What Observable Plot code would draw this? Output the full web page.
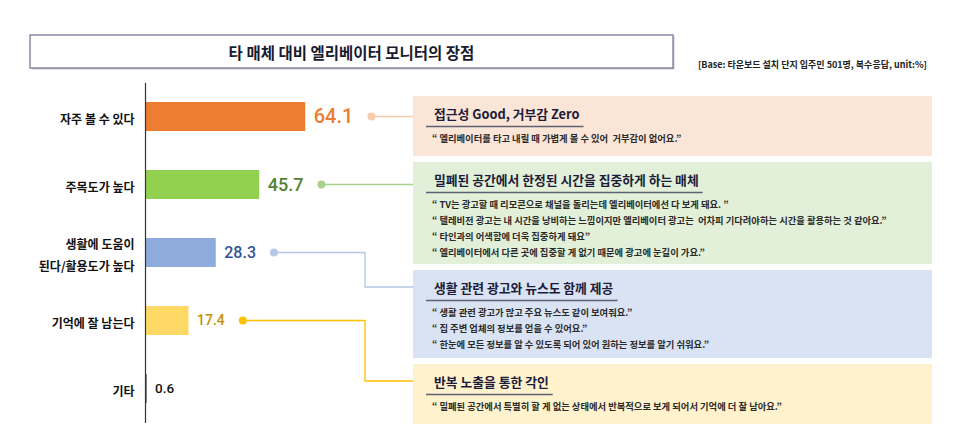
<!DOCTYPE html>
<html><head><meta charset="utf-8">
<script src="https://cdn.jsdelivr.net/npm/d3@7"></script>
<script src="https://cdn.jsdelivr.net/npm/@observablehq/plot@0.6"></script>
<style>body{margin:0;background:#fff;} #chart svg{display:block;}</style>
</head><body><div id="chart"></div>
<script>
// ---- data ----
const titleText = "타 매체 대비 엘리베이터 모니터의 장점";
const baseNote = "[Base: 타운보드 설치 단지 입주민 501명, 복수응답, unit:%]";
const categories = ["자주 볼 수 있다", "주목도가 높다", "생활에 도움이\n된다/활용도가 높다", "기억에 잘 남는다", "기타"];
const values = [64.1, 45.7, 28.3, 17.4, 0.6];
const valueLabels = ["64.1", "45.7", "28.3", "17.4", "0.6"];
const boxTitles = ["접근성 Good, 거부감 Zero", "밀폐된 공간에서 한정된 시간을 집중하게 하는 매체", "생활 관련 광고와 뉴스도 함께 제공", "반복 노출을 통한 각인"];
const boxQuotes = [
  ["“ 엘리베이터를 타고 내릴 때 가볍게 볼 수 있어  거부감이 없어요.”"],
  ["“ TV는 광고할 때 리모콘으로 채널을 돌리는데 엘리베이터에선 다 보게 돼요. ”",
   "“ 텔레비전 광고는 내 시간을 낭비하는 느낌이지만 엘리베이터 광고는  어차피 기다려야하는 시간을 활용하는 것 같아요.”",
   "“ 타인과의 어색함에 더욱 집중하게 돼요”",
   "“ 엘리베이터에서 다른 곳에 집중할 게 없기 때문에 광고에 눈길이 가요.”"],
  ["“ 생활 관련 광고가 많고 주요 뉴스도 같이 보여줘요.”",
   "“ 집 주변 업체의 정보를 얻을 수 있어요.”",
   "“ 한눈에 모든 정보를 알 수 있도록 되어 있어 원하는 정보를 알기 쉬워요.”"],
  ["“ 밀폐된 공간에서 특별히 할 게 없는 상태에서 반복적으로 보게 되어서 기억에 더 잘 남아요.”"]
];

// ---- styles ----
const barColors = ["#ed7d31", "#92d050", "#8faadc", "#ffd966", "#111111"];
const labelColors = ["#ed7d31", "#548235", "#2f5597", "#bf9000", "#111111"];
const labelSizes = [20, 18, 16, 14, 13.5];
const linkColors = ["#f8cbad", "#a9d18e", "#b4c7e7", "#ffc000"];
const boxFills = ["#fbe5d6", "#e2f0d9", "#dae3f3", "#fff2cc"];
const KR = "'Noto Sans CJK KR', 'Noto Sans', sans-serif";

const rows = categories.map((c, i) => ({category: c, value: values[i], label: valueLabels[i], i}));

const chart = Plot.plot({
  width: 960, height: 443,
  marginTop: 83, marginBottom: 20, marginLeft: 145, marginRight: 20,
  style: {fontFamily: KR, background: "#fff", overflow: "visible"},
  x: {domain: [0, 100], range: [145, 395], axis: null},
  y: {domain: categories, range: [83, 423], paddingInner: 0.57, paddingOuter: 0.285, axis: null},
  color: {type: "identity"},
  marks: [
    Plot.barX(rows, {x: "value", y: "category", fill: d => barColors[d.i]}),
    Plot.ruleX([0], {stroke: "#333", strokeWidth: 1.2}),
    Plot.text(rows, {x: d => 0, y: "category", text: "category", dx: -11, textAnchor: "end",
      lineHeight: 1.8, fontSize: 12, fontWeight: "bold", fill: "#111"}),
    Plot.text(rows, {x: "value", y: "category", text: "label", dx: 8, textAnchor: "start",
      fontSize: d => labelSizes[d.i], fill: d => labelColors[d.i], fontFamily: "Roboto",
      fontWeight: 500})
  ]
});
document.getElementById("chart").append(chart);

const svg = d3.select(chart);
const ys = chart.scale("y");
const rowY = c => ys.apply(c) + ys.bandwidth / 2;
const svgRect = chart.getBoundingClientRect();

// title box
const tb = svg.append("g");
tb.append("rect").attr("x", 31.5).attr("y", 36.5).attr("width", 643).attr("height", 33).attr("fill", "#c9c9d3");
tb.append("rect").attr("x", 30).attr("y", 35).attr("width", 643).attr("height", 33)
  .attr("fill", "#fff").attr("stroke", "#7a7a96").attr("stroke-width", 1.3);
tb.append("text").attr("x", 351.5).attr("y", 52).attr("text-anchor", "middle").attr("dominant-baseline", "central")
  .attr("font-family", KR).attr("font-size", 15.5).attr("font-weight", "bold").attr("fill", "#1a1a2e").text(titleText);
svg.append("text").attr("x", 927).attr("y", 64).attr("text-anchor", "end").attr("dominant-baseline", "central")
  .attr("font-family", KR).attr("font-size", 9).attr("font-weight", "bold").attr("fill", "#222").text(baseNote);

// annotation boxes
const boxX = 413, boxW = 519;
let cursorY = 96;
const boxes = boxQuotes.map((q, i) => {
  const h = 46 + 14 * q.length;
  const b = {top: cursorY, h};
  cursorY += h + 6;
  return b;
});
boxes.forEach((b, i) => {
  const g = svg.append("g").attr("text-anchor", "start");
  g.append("rect").attr("x", boxX).attr("y", b.top).attr("width", boxW).attr("height", b.h).attr("fill", boxFills[i]);
  const ht = g.append("text").attr("x", 434).attr("y", b.top + 17).attr("dominant-baseline", "central")
    .attr("text-anchor", "start")
    .attr("font-family", KR).attr("font-size", 12.8).attr("font-weight", "bold").attr("fill", "#1c1c3a").text(boxTitles[i]);
  const w = ht.node().getBBox().width;
  g.append("line").attr("x1", 426).attr("x2", 434 + w + 4).attr("y1", b.top + 30.5).attr("y2", b.top + 30.5)
    .attr("stroke", "#5f5f75").attr("stroke-width", 1.3);
  boxQuotes[i].forEach((line, k) => {
    g.append("text").attr("x", 432).attr("y", b.top + 42 + 16 * k).attr("dominant-baseline", "central")
      .attr("text-anchor", "start")
      .attr("font-family", KR).attr("font-size", 9.3).attr("font-weight", "bold").attr("fill", "#2a2a2a")
      .style("white-space", "pre").text(line);
  });
});

// connectors
const allTexts = svg.selectAll("text").nodes();
boxes.forEach((b, i) => {
  const node = allTexts.find(t => t.textContent === valueLabels[i]);
  const r = node.getBoundingClientRect();
  const y = rowY(categories[i]);
  const dotX = r.right - svgRect.left + 18;
  let pts;
  if (y >= b.top + 8 && y <= b.top + b.h - 8) pts = [[dotX, y], [boxX, y]];
  else {
    const ty = b.top + 17, ex = 365;
    pts = [[dotX, y], [ex, y], [ex, ty], [boxX, ty]];
  }
  svg.append("path").attr("d", d3.line()(pts)).attr("fill", "none").attr("stroke", linkColors[i]).attr("stroke-width", 1.3);
  svg.append("circle").attr("cx", dotX).attr("cy", y).attr("r", 4).attr("fill", linkColors[i]);
});
</script>
</body></html>
